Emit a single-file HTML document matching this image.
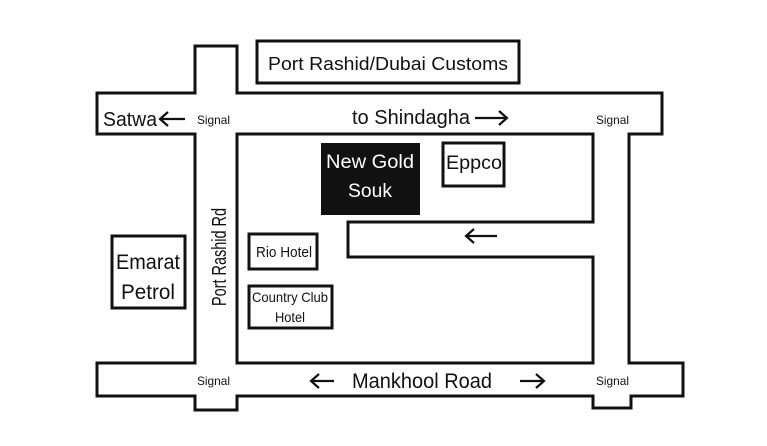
<!DOCTYPE html>
<html><head><style>html,body{margin:0;padding:0;background:#fff;}svg{display:block;}text{font-family:"Liberation Sans Narrow","Liberation Sans",sans-serif;fill:#111;}</style></head>
<body>
<svg width="767" height="446" viewBox="0 0 767 446" xmlns="http://www.w3.org/2000/svg">
<rect width="767" height="446" fill="#fff"/>
<g fill="none" stroke="#111" stroke-width="3" stroke-linejoin="miter">
<path d="M195,46 L237,46 L237,93 L662,93 L662,134 L629,134 L629,363 L683,363 L683,396 L631,396 L631,408 L593,408 L593,396 L237,396 L237,410 L195,410 L195,396 L97,396 L97,363 L195,363 L195,134 L97,134 L97,93 L195,93 Z"/>
<path d="M237,134 L593,134 L593,222 L348,222 L348,257 L593,257 L593,363 L237,363 Z"/>
<rect x="257" y="41" width="262" height="42"/>
<rect x="443" y="143" width="61" height="43"/>
<rect x="249" y="234" width="68" height="35"/>
<rect x="249" y="286" width="83" height="42"/>
<rect x="112" y="236" width="73" height="72"/>
</g>
<g fill="none" stroke="#111" stroke-width="2.2">
<path d="M160,119 H185 M168,112 L160,119 L168,126"/>
<path d="M475,118 H507 M499,111 L507,118 L499,125"/>
<path d="M466,236 H497 M474,229 L466,236 L474,243"/>
<path d="M311,381 H334 M319,374 L311,381 L319,388"/>
<path d="M520,381 H544 M536,374 L544,381 L536,388"/>
</g>
<rect x="321" y="143" width="99" height="72" fill="#111"/>
<text x="268" y="70" font-size="18" textLength="240" lengthAdjust="spacingAndGlyphs">Port Rashid/Dubai Customs</text>
<text x="103" y="126" font-size="20" textLength="54" lengthAdjust="spacingAndGlyphs">Satwa</text>
<text x="197" y="124" font-size="12" textLength="33" lengthAdjust="spacingAndGlyphs">Signal</text>
<text x="596" y="124" font-size="12" textLength="33" lengthAdjust="spacingAndGlyphs">Signal</text>
<text x="197" y="385" font-size="12" textLength="33" lengthAdjust="spacingAndGlyphs">Signal</text>
<text x="596" y="385" font-size="12" textLength="33" lengthAdjust="spacingAndGlyphs">Signal</text>
<text x="352" y="124" font-size="20" textLength="118" lengthAdjust="spacingAndGlyphs">to Shindagha</text>
<text x="352" y="388" font-size="21" textLength="140" lengthAdjust="spacingAndGlyphs">Mankhool Road</text>
<text transform="translate(226,306) rotate(-90)" font-size="20" textLength="98" lengthAdjust="spacingAndGlyphs">Port Rashid Rd</text>
<text x="370" y="168" font-size="19" text-anchor="middle" style="fill:#fff" textLength="88" lengthAdjust="spacingAndGlyphs">New Gold</text>
<text x="370" y="197" font-size="19" text-anchor="middle" style="fill:#fff" textLength="44" lengthAdjust="spacingAndGlyphs">Souk</text>
<text x="446" y="169" font-size="19" textLength="56" lengthAdjust="spacingAndGlyphs">Eppco</text>
<text x="256" y="257" font-size="15" textLength="56" lengthAdjust="spacingAndGlyphs">Rio Hotel</text>
<text x="252" y="302" font-size="14" textLength="76" lengthAdjust="spacingAndGlyphs">Country Club</text>
<text x="290" y="322" font-size="14" text-anchor="middle" textLength="30" lengthAdjust="spacingAndGlyphs">Hotel</text>
<text x="148" y="269" font-size="21" text-anchor="middle" textLength="64" lengthAdjust="spacingAndGlyphs">Emarat</text>
<text x="148" y="299" font-size="21" text-anchor="middle" textLength="54" lengthAdjust="spacingAndGlyphs">Petrol</text>
</svg>
</body></html>
